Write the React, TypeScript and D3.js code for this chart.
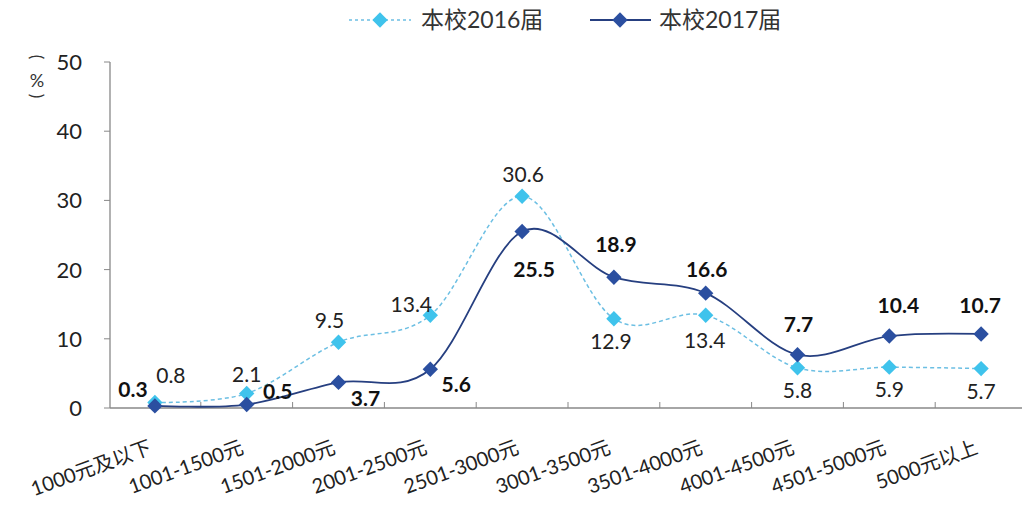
import * as d3 from 'd3';

const width = 1022;
const height = 508;

const categories = ['1000元及以下', '1001-1500元', '1501-2000元', '2001-2500元', '2501-3000元',
  '3001-3500元', '3501-4000元', '4001-4500元', '4501-5000元', '5000元以上'];
const values2016 = [0.8, 2.1, 9.5, 13.4, 30.6, 12.9, 13.4, 5.8, 5.9, 5.7];
const values2017 = [0.3, 0.5, 3.7, 5.6, 25.5, 18.9, 16.6, 7.7, 10.4, 10.7];
const yTicks = [0, 10, 20, 30, 40, 50];

// label offsets from the marker (text centre x, baseline y)
const offs2016 = [[16, -19], [0, -11], [-9, -14], [-19, -3], [1, -14], [-3, 30], [-1, 33], [0, 30], [0, 30], [0, 30]];
const offs2017 = [[-22, -9], [31, -6], [27, 24], [26, 23], [12, 45], [2, -25], [1, -16], [1, -23], [9, -23], [-1, -21]];

const c2016 = '#3fc3ec';
const c2016line = '#6cbfe3';
const c2017 = '#2b4fa0';
const c2017line = '#263f80';
const font = 'Lato, "Noto Sans CJK SC", sans-serif';

const x = d3.scaleBand().domain(categories).range([109, 1027]);
const y = d3.scaleLinear().domain([0, 50]).range([408, 62]);
const cx = (c: string) => (x(c) ?? 0) + x.bandwidth() / 2;

const line = d3.line<number>()
  .x((_, i) => cx(categories[i]))
  .y(d => y(d))
  .curve(d3.curveCardinal);

const diamond = d3.symbol().type(d3.symbolDiamond2).size(150);

const App = () => {
  return (
    <svg width={width} height={height} style={{ position: 'absolute', left: 0, top: 0, background: '#fff' }}
      fontFamily={font}>
      {/* legend */}
      <line x1={349} x2={411} y1={20} y2={20} stroke={c2016line} strokeWidth={1.5} strokeDasharray="3,3" />
      <path d={diamond()!} transform="translate(380,20)" fill={c2016} />
      <text x={421} y={28} fontSize={23} fill="#333">本校2016届</text>
      <line x1={590} x2={651} y1={20} y2={20} stroke={c2017line} strokeWidth={2} />
      <path d={diamond()!} transform="translate(620,20)" fill={c2017} />
      <text x={659} y={28} fontSize={23} fill="#333">本校2017届</text>

      {/* y axis unit: brackets turned to stand above and below the % sign */}
      <text transform="translate(37,57) rotate(90)" fontSize={17} textAnchor="middle" dominantBaseline="central"
        fill="#333">(</text>
      <text x={37} y={87} fontSize={18} textAnchor="middle" fill="#333">%</text>
      <text transform="translate(37,96) rotate(90)" fontSize={17} textAnchor="middle" dominantBaseline="central"
        fill="#333">)</text>

      {/* axes */}
      <line x1={110} x2={110} y1={y(50)} y2={y(0)} stroke="#888" strokeWidth={1.3} />
      <line x1={110} x2={1022} y1={y(0)} y2={y(0)} stroke="#888" strokeWidth={1.3} />
      {yTicks.map(t => (
        <g key={t}>
          <line x1={104} x2={110} y1={y(t)} y2={y(t)} stroke="#888" />
          <text x={82} y={y(t) + 8} fontSize={22} textAnchor="end" fill="#222">{t}</text>
        </g>
      ))}
      {categories.slice(1).map(c => (
        <line key={c} x1={x(c)} x2={x(c)} y1={y(0)} y2={y(0) - 6} stroke="#888" />
      ))}
      {categories.map(c => (
        <text key={c} transform={`translate(${cx(c) - 2},${453}) rotate(-20)`} textAnchor="end"
          fontSize={20} fill="#222">{c}</text>
      ))}

      {/* series */}
      <path d={line(values2016)!} fill="none" stroke={c2016line} strokeWidth={1.5} strokeDasharray="4,3" />
      <path d={line(values2017)!} fill="none" stroke={c2017line} strokeWidth={1.8} />
      {values2016.map((v, i) => (
        <path key={'a' + i} d={diamond()!} transform={`translate(${cx(categories[i])},${y(v)})`} fill={c2016} />
      ))}
      {values2017.map((v, i) => (
        <path key={'b' + i} d={diamond()!} transform={`translate(${cx(categories[i])},${y(v)})`} fill={c2017} />
      ))}

      {/* data labels */}
      {values2016.map((v, i) => (
        <text key={'la' + i} x={cx(categories[i]) + offs2016[i][0]} y={y(v) + offs2016[i][1]} textAnchor="middle"
          fontSize={21} fill="#222">{v.toFixed(1)}</text>
      ))}
      {values2017.map((v, i) => (
        <text key={'lb' + i} x={cx(categories[i]) + offs2017[i][0]} y={y(v) + offs2017[i][1]} textAnchor="middle"
          fontSize={21} fontWeight="bold" fill="#111">{v.toFixed(1)}</text>
      ))}
    </svg>
  );
};

export default App;
